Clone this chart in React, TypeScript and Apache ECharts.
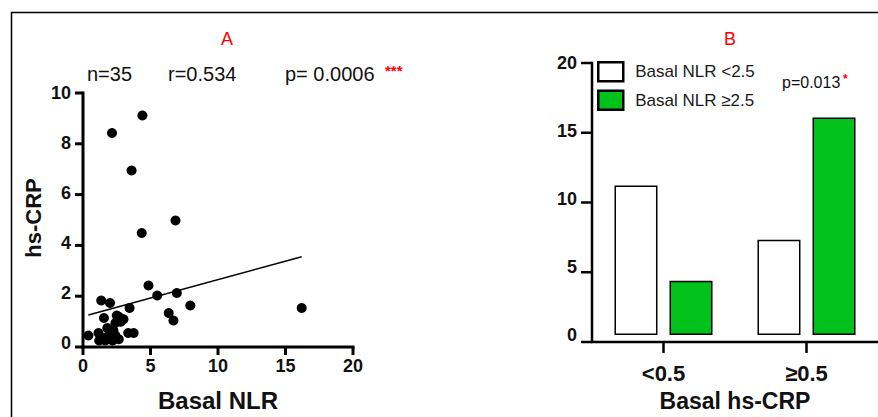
import React, { useEffect, useRef } from "react";
import * as echarts from "echarts";

// Panel A: scatter of Basal NLR (x) vs hs-CRP (y)
const scatterPoints: [number, number][] = [
  [4.4, 9.1], [2.15, 8.4], [3.6, 6.9], [6.85, 4.9], [4.35, 4.4],
  [4.85, 2.3], [5.5, 1.9], [6.95, 2.0], [7.95, 1.5], [16.2, 1.4],
  [6.35, 1.2], [6.7, 0.9], [1.35, 1.7], [2.0, 1.6], [3.45, 1.4],
  [1.55, 1.0], [2.65, 1.05], [3.0, 0.95], [2.4, 0.8], [1.8, 0.6],
  [3.35, 0.4], [3.75, 0.4], [0.4, 0.3], [1.15, 0.4], [1.4, 0.2],
  [2.0, 0.15], [2.4, 0.3], [2.65, 0.15], [1.65, 0.1], [2.25, 0.5],
  [2.8, 0.85], [1.9, 0.3], [2.2, 0.1], [1.2, 0.1], [2.5, 1.1],
];
const trendLine: [number, number][] = [[0.4, 1.12], [16.2, 3.45]];
const xTicksA = { min: 0, max: 20, interval: 5 };
const yTicksA = { min: 0, max: 10, interval: 2 };

// Panel B: counts by Basal hs-CRP group
const categoriesB = ["<0.5", "≥0.5"];
const seriesLowName = "Basal NLR <2.5";
const seriesHighName = "Basal NLR ≥2.5";
const seriesLow = [11, 7];
const seriesHigh = [4, 16];
const yTicksB = { min: 0, max: 20, interval: 5 };

const FONT = "'Liberation Sans', Arial, Helvetica, sans-serif";
const BLACK = "#111";
const W = 878;
const H = 417;
const GRID_A = { left: 83, right: 525, top: 93, bottom: 70 };
const GRID_B = { left: 592, right: 0, top: 63, bottom: 75 };

const tickValues = (t: { min: number; max: number; interval: number }) => {
  const out: number[] = [];
  for (let v = t.min; v <= t.max + 1e-9; v += t.interval) out.push(v);
  return out;
};

// Axis chrome (lines + ticks) following the grid layout and axis ranges
const buildAxes = () => {
  const pl = (pts: number[][], w: number) => ({
    type: "polyline",
    shape: { points: pts },
    style: { fill: "none", stroke: "#000", lineWidth: w },
    silent: true,
  });
  const out: any[] = [];
  const a = { x0: GRID_A.left, x1: W - GRID_A.right, y0: H - GRID_A.bottom, y1: GRID_A.top };
  const ax = (v: number) => a.x0 + ((v - xTicksA.min) / (xTicksA.max - xTicksA.min)) * (a.x1 - a.x0);
  const ay = (v: number) => a.y0 - ((v - yTicksA.min) / (yTicksA.max - yTicksA.min)) * (a.y0 - a.y1);
  out.push(pl([[a.x0, a.y1 - 1.5], [a.x0, a.y0], [a.x1 + 1.5, a.y0]], 3));
  tickValues(xTicksA).forEach((v) => out.push(pl([[ax(v), a.y0], [ax(v), a.y0 + 8]], 3)));
  tickValues(yTicksA).forEach((v) => out.push(pl([[a.x0, ay(v)], [a.x0 - 8, ay(v)]], 3)));

  const b = { x0: GRID_B.left, x1: W - GRID_B.right, y0: H - GRID_B.bottom, y1: GRID_B.top };
  const band = (b.x1 - b.x0) / categoriesB.length;
  const by = (v: number) => b.y0 - ((v - yTicksB.min) / (yTicksB.max - yTicksB.min)) * (b.y0 - b.y1);
  out.push(pl([[b.x0, b.y1 - 1.25], [b.x0, b.y0], [b.x1, b.y0]], 2.5));
  categoriesB.forEach((_c, i) => {
    const x = b.x0 + band * (i + 0.5);
    out.push(pl([[x, b.y0], [x, b.y0 + 11]], 2.5));
  });
  tickValues(yTicksB).forEach((v) => out.push(pl([[b.x0, by(v)], [b.x0 - 11, by(v)]], 2.5)));
  return out;
};

export default function App() {
  const ref = useRef<HTMLDivElement>(null);
  useEffect(() => {
    if (!ref.current) return;
    const chart = echarts.init(ref.current, undefined, { renderer: "svg" });
    const txt = (text: string, x: number, y: number, size: number, color = BLACK, weight = "normal", align = "left") => ({
      type: "text",
      x,
      y,
      style: { text, fill: color, font: `${weight} ${size}px ${FONT}`, textAlign: align, textVerticalAlign: "middle" },
    });
    const hidden = { show: false };

    chart.setOption({
      animation: false,
      textStyle: { fontFamily: FONT },
      grid: [GRID_A, GRID_B],
      legend: {
        data: [seriesLowName, seriesHighName],
        orient: "vertical",
        left: 597,
        top: 61,
        padding: 0,
        itemWidth: 25,
        itemHeight: 19,
        itemGap: 7,
        icon: "rect",
        itemStyle: { borderWidth: 2.5, borderColor: "#000" },
        textStyle: { fontSize: 17, color: "#1a1a1a", fontFamily: FONT, padding: [0, 0, 0, 7] },
      },
      xAxis: [
        {
          type: "value",
          gridIndex: 0,
          ...xTicksA,
          splitLine: hidden,
          axisLine: hidden,
          axisTick: hidden,
          axisLabel: { fontSize: 18, fontWeight: "bold", color: BLACK, margin: 14, fontFamily: FONT },
          name: "Basal NLR",
          nameLocation: "middle",
          nameGap: 45,
          nameTextStyle: { fontSize: 24, fontWeight: "bold", color: BLACK, fontFamily: FONT },
        },
        {
          type: "category",
          gridIndex: 1,
          data: categoriesB,
          axisLine: hidden,
          axisTick: hidden,
          axisLabel: { fontSize: 22, fontWeight: "bold", color: BLACK, margin: 27, fontFamily: FONT },
          name: "Basal hs-CRP",
          nameLocation: "middle",
          nameGap: 49,
          nameTextStyle: { fontSize: 23, fontWeight: "bold", color: BLACK, fontFamily: FONT },
        },
      ],
      yAxis: [
        {
          type: "value",
          gridIndex: 0,
          ...yTicksA,
          splitLine: hidden,
          axisLine: hidden,
          axisTick: hidden,
          axisLabel: { fontSize: 18, fontWeight: "bold", color: BLACK, margin: 12, fontFamily: FONT },
          name: "hs-CRP",
          nameLocation: "middle",
          nameGap: 39,
          nameTextStyle: { fontSize: 22, fontWeight: "bold", color: BLACK, fontFamily: FONT },
        },
        {
          type: "value",
          gridIndex: 1,
          ...yTicksB,
          splitLine: hidden,
          axisLine: hidden,
          axisTick: hidden,
          axisLabel: { fontSize: 18, fontWeight: "bold", color: BLACK, margin: 15, fontFamily: FONT },
        },
      ],
      series: [
        {
          type: "scatter",
          xAxisIndex: 0,
          yAxisIndex: 0,
          data: scatterPoints,
          symbol: "circle",
          symbolSize: 10,
          itemStyle: { color: "#000", opacity: 1 },
          clip: false,
          z: 3,
        },
        {
          type: "line",
          xAxisIndex: 0,
          yAxisIndex: 0,
          data: trendLine,
          showSymbol: false,
          symbol: "none",
          lineStyle: { color: "#000", width: 1.5 },
          clip: false,
          z: 2,
        },
        {
          type: "bar",
          name: seriesLowName,
          xAxisIndex: 1,
          yAxisIndex: 1,
          data: seriesLow,
          barWidth: 43,
          barGap: "28%",
          clip: false,
          itemStyle: { color: "#fff", borderColor: "#000", borderWidth: 1.5 },
        },
        {
          type: "bar",
          name: seriesHighName,
          xAxisIndex: 1,
          yAxisIndex: 1,
          data: seriesHigh,
          barWidth: 43,
          barGap: "28%",
          clip: false,
          itemStyle: { color: "#00c21b", borderColor: "#000", borderWidth: 1.5 },
        },
      ],
      graphic: [
        {
          type: "polyline",
          shape: { points: [[11.5, H], [11.5, 12.5], [W, 12.5]] },
          style: { fill: "none", stroke: "#000", lineWidth: 1.5 },
          silent: true,
        },
        ...buildAxes(),
        txt("A", 227, 39, 18, "#ff0000", "normal", "center"),
        txt("n=35", 87, 74, 20),
        txt("r=0.534", 168, 74, 20),
        txt("p= 0.0006", 285, 74, 20),
        txt("***", 385, 70, 15, "#ff0000", "bold"),
        txt("B", 730, 39, 18, "#ff0000", "normal", "center"),
        txt("p=0.013", 782, 82, 16),
        txt("*", 843, 79, 12, "#ff0000", "bold"),
      ],
    });
    return () => chart.dispose();
  }, []);
  return (
    <div
      ref={ref}
      style={{ position: "fixed", left: 0, top: 0, width: W, height: H, background: "#fff" }}
    />
  );
}
